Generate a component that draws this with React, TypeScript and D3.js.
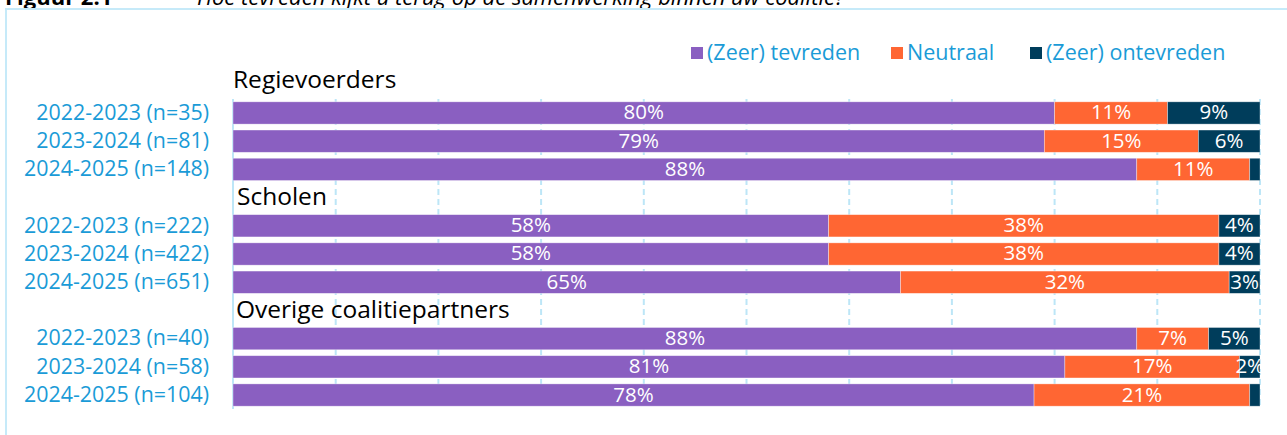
import React from "react";
import * as d3 from "d3";

const groups = ["Regievoerders", "Scholen", "Overige coalitiepartners"];
const yearLabels = [
  "2022-2023 (n=35)", "2023-2024 (n=81)", "2024-2025 (n=148)",
  "2022-2023 (n=222)", "2023-2024 (n=422)", "2024-2025 (n=651)",
  "2022-2023 (n=40)", "2023-2024 (n=58)", "2024-2025 (n=104)",
];
const satisfied = [80, 79, 88, 58, 58, 65, 88, 81, 78];
const neutral = [11, 15, 11, 38, 38, 32, 7, 17, 21];
const dissatisfied = [9, 6, 1, 4, 4, 3, 5, 2, 1];
const seriesNames = ["(Zeer) tevreden", "Neutraal", "(Zeer) ontevreden"];
const seriesColors = ["#8A5FC1", "#FF6633", "#003D5B"];
const xTicks = [0, 10, 20, 30, 40, 50, 60, 70, 80, 90, 100];

const W = 1287, H = 435;
const FONT = "'Open Sans', sans-serif";
const LABEL_BLUE = "#1A9BD7";
const GRID = "#BDE6F7";

export default function App() {
  const x = d3.scaleLinear().domain([0, 100]).range([233, 1260]);
  // 11 slots: 3 bars, heading, 3 bars, heading, 3 bars
  const slotOf = (i: number) => i + Math.floor(i / 3);
  const y = d3.scaleBand<number>().domain(d3.range(11)).range([99, 409]).paddingInner(0.21).paddingOuter(0.1);
  const step = y.step();
  const stack = d3.stack<number>().keys(["0", "1", "2"]).value((i, k) => [satisfied, neutral, dissatisfied][+k][i]);
  const stacked = stack(d3.range(satisfied.length));
  const headingY = [y(0)! - step * 0.72, y(3)! + y.bandwidth() / 2 + 1, y(7)! + y.bandwidth() / 2 + 1];
  const headingX = [233, 237, 236];
  const legendX = [691, 891, 1030];

  return (
    <svg width={W} height={H} style={{ position: "absolute", left: 0, top: 0, background: "#fff" }}>
      <text x={5} y={5} fontFamily={FONT} fontSize={22} fontWeight={700}>Figuur 2.1</text>
      <text x={197} y={5} fontFamily={FONT} fontSize={22} fontStyle="italic">Hoe tevreden kijkt u terug op de samenwerking binnen uw coalitie?</text>
      <rect x={6} y={9} width={1300} height={450} fill="none" stroke="#C6EAF9" strokeWidth={2} />

      {/* gridlines */}
      {xTicks.map((t) => (
        <line key={t} x1={x(t)} x2={x(t)} y1={99} y2={409} stroke={GRID} strokeWidth={2}
          strokeDasharray={t === 0 ? undefined : "6,4"} />
      ))}

      {/* bars */}
      {stacked.map((s, si) => (
        <g key={si}>
          {s.map((d, i) => {
            const x0 = x(d[0]), x1 = x(d[1]);
            const yy = y(slotOf(i))!;
            const v = d[1] - d[0];
            return (
              <g key={i}>
                <rect x={x0} y={yy} width={x1 - x0} height={y.bandwidth()} fill={seriesColors[si]}
                  stroke="#fff" strokeOpacity={0.5} strokeWidth={0.7} />
                {v >= 2 && (
                  <text x={(x0 + x1) / 2} y={yy + y.bandwidth() / 2 + 1} textAnchor="middle" dominantBaseline="middle"
                    fill="#fff" fontFamily={FONT} fontSize={20.5}>{v}%</text>
                )}
              </g>
            );
          })}
        </g>
      ))}

      {/* y labels */}
      {yearLabels.map((l, i) => (
        <text key={i} x={209} y={y(slotOf(i))! + y.bandwidth() / 2 + 1} textAnchor="end" dominantBaseline="middle"
          fill={LABEL_BLUE} fontFamily={FONT} fontSize={21.4}>{l}</text>
      ))}

      {/* group headings */}
      {groups.map((g, i) => (
        <text key={g} x={headingX[i]} y={headingY[i]} dominantBaseline="middle" fill="#000" fontFamily={FONT} fontSize={24.5}>{g}</text>
      ))}

      {/* legend */}
      {seriesNames.map((n, i) => (
        <g key={n}>
          <rect x={legendX[i]} y={47} width={12} height={12} fill={seriesColors[i]} />
          <text x={legendX[i] + 16} y={54} dominantBaseline="middle" fill={LABEL_BLUE} fontFamily={FONT} fontSize={21.5}>{n}</text>
        </g>
      ))}
    </svg>
  );
}
